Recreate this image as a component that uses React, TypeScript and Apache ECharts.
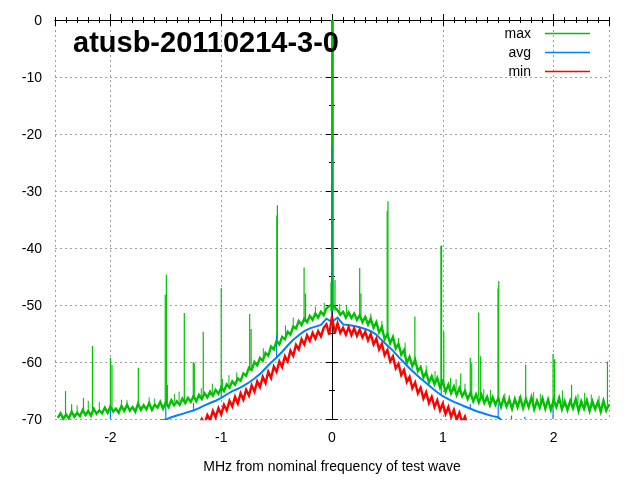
import React, { useEffect, useRef } from "react";
import * as echarts from "echarts";

const TITLE = "atusb-20110214-3-0";
const X_NAME = "MHz from nominal frequency of test wave";
const X_MIN = -2.5;
const X_MAX = 2.5;
const Y_MIN = -70;
const Y_MAX = 0;
const SERIES_NAMES = ["max", "avg", "min"];

// max trace, sampled every 0.025 MHz from -2.475
const MAX_X0 = -2.475;
const MAX_STEP = 0.025;
const maxTrace = [
  -69.8, -69.0, -70.0, -69.2, -69.9, -68.7, -69.6, -68.9,
  -69.5, -68.4, -69.3, -68.6, -69.4, -68.2, -69.1, -68.5,
  -69.0, -68.0, -68.9, -67.8, -68.7, -68.2, -68.9, -67.7,
  -68.6, -67.5, -68.5, -67.9, -68.7, -67.3, -68.4, -67.6,
  -68.3, -67.2, -68.4, -67.5, -68.0, -67.0, -68.2, -67.1,
  -67.9, -66.7, -67.6, -66.9, -67.5, -66.4, -67.2, -66.3,
  -67.0, -66.0, -66.9, -65.8, -66.5, -65.5, -66.2, -65.2,
  -65.9, -64.9, -65.6, -64.5, -65.1, -63.9, -64.5, -63.4,
  -64.0, -62.9, -63.3, -62.0, -62.4, -61.0, -61.4, -60.0,
  -60.6, -59.3, -59.8, -58.4, -58.9, -57.3, -57.8, -56.3,
  -56.9, -55.6, -56.0, -54.7, -55.2, -53.8, -54.1, -52.8,
  -53.5, -52.4, -53.0, -51.9, -52.6, -51.5, -52.2, -51.2,
  -51.8, -50.6, -50.2, -50.0, -50.4, -50.9, -51.7, -51.2,
  -52.2, -51.3, -52.3, -51.5, -52.6, -51.8, -53.0, -52.1,
  -53.4, -52.4, -54.0, -53.0, -54.8, -53.9, -56.0, -55.1,
  -56.7, -55.6, -57.6, -56.8, -58.7, -57.9, -60.2, -59.1,
  -60.7, -59.6, -61.6, -60.9, -62.7, -61.8, -63.6, -62.5,
  -63.9, -62.8, -64.5, -63.4, -65.2, -64.0, -65.5, -64.3,
  -65.8, -64.6, -66.0, -65.1, -66.5, -65.4, -66.9, -65.7,
  -67.1, -65.8, -67.2, -66.1, -67.6, -66.2, -67.5, -66.4,
  -67.9, -66.3, -67.8, -66.6, -68.2, -66.5, -67.9, -66.3,
  -68.1, -66.5, -67.9, -66.2, -68.3, -66.8, -68.0, -66.4,
  -68.2, -66.6, -68.4, -66.7, -67.9, -66.3, -68.3, -66.9,
  -68.4, -66.8, -68.1, -66.5, -68.6, -66.9, -68.2, -66.7,
  -68.6, -66.9, -68.3, -67.0, -68.7, -66.8, -68.5, -67.4,
];

// avg trace, sampled every 0.05 MHz from -2.45
const AVG_X0 = -2.45;
const AVG_STEP = 0.05;
const avgTrace = [
  -76.0, -75.6, -75.2, -74.8, -74.4, -74.0, -73.6, -73.3, -73.0,
  -72.7, -72.4, -72.1, -71.8, -71.5, -71.2, -70.9, -70.7, -70.5,
  -70.3, -70.1, -69.7, -69.4, -69.1, -68.8, -68.5, -68.1, -67.6,
  -67.2, -66.8, -66.3, -65.7, -65.1, -64.7, -64.2, -63.6, -62.9,
  -62.1, -61.1, -60.1, -59.2, -58.2, -57.1, -56.1, -55.3, -54.6,
  -54.1, -53.8, -53.5, -52.4, -53.0, -52.2, -53.4, -53.5, -53.7,
  -53.9, -54.2, -54.6, -55.2, -56.2, -57.1, -58.0, -59.1, -60.1,
  -61.1, -62.0, -62.9, -63.7, -64.5, -65.3, -66.0, -66.5, -67.0,
  -67.4, -67.8, -68.2, -68.6, -68.9, -69.2, -69.5, -69.7, -70.6,
  -70.9, -71.2, -71.5, -71.8, -72.1, -72.4, -72.7, -73.0, -73.3,
  -73.6, -73.9, -74.2, -74.5, -74.8, -75.1, -75.4, -75.7, -76.0,
  -76.3,
];

// min trace, sampled every 0.025 MHz from -1.2
const MIN_X0 = -1.2;
const MIN_STEP = 0.025;
const minTrace = [
  -71.2, -70.0, -70.9, -69.3, -70.2, -68.6, -69.7, -68.1,
  -69.2, -67.5, -68.5, -66.8, -67.8, -66.1, -67.3, -65.5,
  -66.6, -64.9, -65.9, -64.1, -65.2, -63.4, -64.4, -62.6,
  -63.7, -61.7, -62.8, -60.8, -61.7, -59.9, -60.9, -59.0,
  -59.9, -58.0, -58.9, -57.0, -57.8, -56.0, -56.9, -55.3,
  -56.3, -54.9, -55.9, -54.6, -55.5, -54.0, -53.4, -55.2,
  -52.0, -55.0, -53.2, -54.9, -54.0, -55.2, -53.9, -55.3,
  -54.1, -55.4, -54.3, -55.7, -54.7, -56.2, -55.1, -56.9,
  -55.9, -57.8, -56.8, -58.8, -57.9, -59.9, -59.0, -61.1,
  -60.3, -62.3, -61.4, -63.5, -62.6, -64.6, -63.6, -65.5,
  -64.5, -66.4, -65.3, -67.2, -66.1, -67.9, -66.7, -68.5,
  -67.3, -69.1, -67.9, -69.6, -68.4, -70.1, -68.9, -70.6,
  -69.6, -71.3, -71.5,
];

// narrow spurs: [MHz, foot dB, peak dB]
const maxSpikes = [
  [-2.405, -69.3, -65.1], [-2.35, -69.2, -67.4], [-2.243, -69.0, -66.3],
  [-2.162, -68.8, -57.2], [-2.0, -68.3, -59.3], [-1.986, -68.3, -60.5],
  [-1.748, -67.9, -61.0], [-1.505, -67.3, -48.2], [-1.495, -67.3, -44.7],
  [-1.486, -67.3, -64.0], [-1.333, -66.8, -51.4], [-1.252, -66.5, -60.0],
  [-1.243, -66.5, -60.2], [-1.162, -66.0, -54.7], [-1.0, -65.0, -47.0],
  [-0.99, -65.0, -63.0], [-0.743, -61.5, -51.6], [-0.73, -61.2, -54.2],
  [-0.498, -56.8, -34.3], [-0.493, -56.7, -32.5], [-0.252, -53.0, -43.4],
  [-0.239, -53.0, -48.0], [-0.009, -51.0, -46.0], [-0.003, -51.0, 0],
  [0.004, -51.0, 0], [0.011, -51.0, 0], [0.027, -51.0, -45.6],
  [0.25, -52.0, -43.5], [0.261, -52.0, -48.0], [0.498, -55.6, -33.5],
  [0.505, -55.6, -31.8], [0.748, -60.5, -52.0], [0.983, -63.8, -39.6],
  [0.989, -63.8, -39.6], [1.009, -64.0, -54.7], [1.162, -65.3, -62.0],
  [1.248, -65.8, -59.3], [1.261, -65.8, -60.2], [1.324, -66.2, -51.3],
  [1.342, -66.2, -59.0], [1.498, -66.9, -47.1], [1.505, -66.9, -45.8],
  [1.748, -67.2, -60.5], [1.995, -67.3, -58.6], [2.009, -67.3, -59.5],
  [2.162, -67.4, -64.0], [2.486, -67.5, -59.9],
];

// small noise hairs on the max trace: [MHz, foot dB, peak dB]
const maxHairs = [
  [-2.3, -69.0, -67.6], [-2.2, -68.8, -66.8], [-2.1, -68.6, -67.0],
  [-1.9, -68.1, -66.6], [-1.85, -68.0, -66.7], [-1.65, -67.7, -66.2],
  [-1.6, -67.6, -66.4], [-1.42, -67.0, -65.6], [-1.38, -66.9, -65.2],
  [-1.18, -66.1, -64.6], [-1.08, -65.4, -63.8], [-0.93, -64.0, -62.3],
  [-0.86, -63.3, -61.8], [-0.62, -59.2, -57.6], [-0.42, -55.3, -53.6],
  [-0.35, -54.0, -52.2], [-0.15, -52.0, -50.3], [-0.07, -51.6, -49.6],
  [0.07, -51.4, -49.8], [0.13, -51.6, -50.0], [0.35, -53.2, -51.5],
  [0.45, -54.7, -52.8], [0.6, -57.6, -55.8], [0.66, -58.5, -56.6],
  [0.85, -62.3, -60.6], [0.93, -63.3, -61.6], [1.07, -64.5, -62.8],
  [1.12, -64.9, -63.0], [1.2, -65.6, -63.8], [1.37, -66.4, -64.8],
  [1.43, -66.7, -64.9], [1.56, -67.0, -65.5], [1.6, -67.1, -65.8],
  [1.69, -67.2, -66.0], [1.82, -67.2, -65.3], [1.88, -67.2, -65.6],
  [2.08, -67.3, -65.0], [2.22, -67.4, -65.6], [2.28, -67.4, -65.4],
  [2.34, -67.5, -65.7], [2.41, -67.5, -65.9],
];

const avgSpikes = [
  [-2.0, -70, -68.4], [-1.5, -70, -67.4], [-1.25, -68.5, -67.2],
  [-1.0, -66.3, -64.0], [-0.5, -59.2, -55.3], [-0.003, -53.0, -22.0],
  [0.986, -65.9, -63.2], [1.248, -68.2, -67.4], [1.5, -70, -67.3],
  [1.62, -70, -69.4], [1.74, -70, -69.6], [1.995, -70, -67.5],
];

const GREEN = "#00c000";
const BLUE = "#0080ff";
const RED = "#ff0000";
const FONT = "Liberation Sans";

function toPairs(x0: number, step: number, ys: number[]) {
  return ys.map((y, i) => [Number((x0 + i * step).toFixed(4)), y]);
}

function spikeSeries(data: number[][], color: string, w: number) {
  return {
    type: "custom",
    silent: true,
    clip: true,
    encode: { x: 0, y: [1, 2] },
    data,
    renderItem: (params: any, api: any) => {
      const p1 = api.coord([api.value(0), api.value(1)]);
      const p2 = api.coord([api.value(0), api.value(2)]);
      return {
        type: "line",
        shape: { x1: p1[0], y1: p1[1], x2: p2[0], y2: p2[1] },
        style: { stroke: color, lineWidth: w },
      };
    },
  };
}

const grid = { left: 55, right: 31, top: 20, bottom: 61 };
const black = { color: "#000", width: 1 };
const dashed = { color: "#a0a0a0", width: 1, type: [2, 3] };

export default function App() {
  const ref = useRef<HTMLDivElement>(null);
  useEffect(() => {
    if (!ref.current) return;
    const chart = echarts.init(ref.current, undefined, { renderer: "svg" });
    const lineSeries = (name: string, data: number[][], color: string, w: number) => ({
      name,
      type: "line",
      data,
      showSymbol: false,
      symbol: "none",
      clip: true,
      silent: true,
      lineStyle: { color, width: w, join: "miter" },
    });
    const colors = [GREEN, BLUE, RED];
    const legendItems: any[] = [];
    SERIES_NAMES.forEach((n, i) => {
      const y = 33 + i * 19;
      legendItems.push({
        type: "text", z: 100,
        style: { text: n, x: 531, y, align: "right", verticalAlign: "middle", font: `14px "${FONT}"`, fill: "#000" },
      });
      legendItems.push({
        type: "line", z: 100,
        shape: { x1: 545, y1: y + 0.5, x2: 590, y2: y + 0.5 },
        style: { stroke: colors[i], lineWidth: 1.5 },
      });
    });
    chart.setOption({
      animation: false,
      textStyle: { fontFamily: FONT },
      grid,
      xAxis: [
        {
          type: "value", min: X_MIN, max: X_MAX, splitNumber: 5, position: "bottom",
          name: X_NAME, nameLocation: "middle", nameGap: 40,
          nameTextStyle: { fontSize: 14, color: "#000", fontFamily: FONT },
          axisLine: { show: true, lineStyle: black },
          axisTick: { show: true, inside: true, length: 6, lineStyle: black },
          axisLabel: { show: true, fontSize: 14, color: "#000", margin: 11, showMinLabel: false, showMaxLabel: false, fontFamily: FONT },
          splitLine: { show: true, lineStyle: dashed },
        },
        {
          type: "value", min: X_MIN, max: X_MAX, interval: 0.1, position: "bottom",
          axisLine: { show: false }, axisLabel: { show: false }, splitLine: { show: false },
          axisTick: { show: true, inside: true, length: 3, lineStyle: black },
        },
        {
          type: "value", min: X_MIN, max: X_MAX, splitNumber: 5, position: "top",
          axisLine: { show: true, lineStyle: black }, axisLabel: { show: false }, splitLine: { show: false },
          axisTick: { show: true, inside: true, length: 6, lineStyle: black },
        },
        {
          type: "value", min: X_MIN, max: X_MAX, interval: 0.1, position: "top",
          axisLine: { show: false }, axisLabel: { show: false }, splitLine: { show: false },
          axisTick: { show: true, inside: true, length: 3, lineStyle: black },
        },
      ],
      yAxis: [
        {
          type: "value", min: Y_MIN, max: Y_MAX, interval: 10, position: "left",
          axisLine: { show: true, lineStyle: black },
          axisTick: { show: true, inside: true, length: 6, lineStyle: black },
          minorTick: { show: true, splitNumber: 2, length: 3, lineStyle: black },
          axisLabel: { show: true, fontSize: 14, color: "#000", margin: 13, fontFamily: FONT },
          splitLine: { show: true, lineStyle: dashed },
        },
        {
          type: "value", min: Y_MIN, max: Y_MAX, interval: 10, position: "right",
          axisLine: { show: true, lineStyle: black },
          axisTick: { show: true, inside: true, length: 6, lineStyle: black },
          minorTick: { show: true, splitNumber: 2, length: 3, lineStyle: black },
          axisLabel: { show: false }, splitLine: { show: false },
        },
      ],
      series: [
        lineSeries(SERIES_NAMES[0], toPairs(MAX_X0, MAX_STEP, maxTrace), GREEN, 2.4),
        spikeSeries(maxHairs, GREEN, 1),
        spikeSeries(maxSpikes, GREEN, 1.2),
        lineSeries(SERIES_NAMES[1], toPairs(AVG_X0, AVG_STEP, avgTrace), BLUE, 2),
        spikeSeries(avgSpikes, BLUE, 1.2),
        lineSeries(SERIES_NAMES[2], toPairs(MIN_X0, MIN_STEP, minTrace), RED, 2.4),
      ],
      graphic: [
        {
          type: "text", left: 73, top: 27, z: 100,
          style: { text: TITLE, font: `bold 29px "${FONT}"`, fill: "#000" },
        },
        ...legendItems,
      ],
    });
    return () => chart.dispose();
  }, []);
  return <div ref={ref} style={{ position: "fixed", left: 0, top: 0, width: 640, height: 480 }} />;
}
